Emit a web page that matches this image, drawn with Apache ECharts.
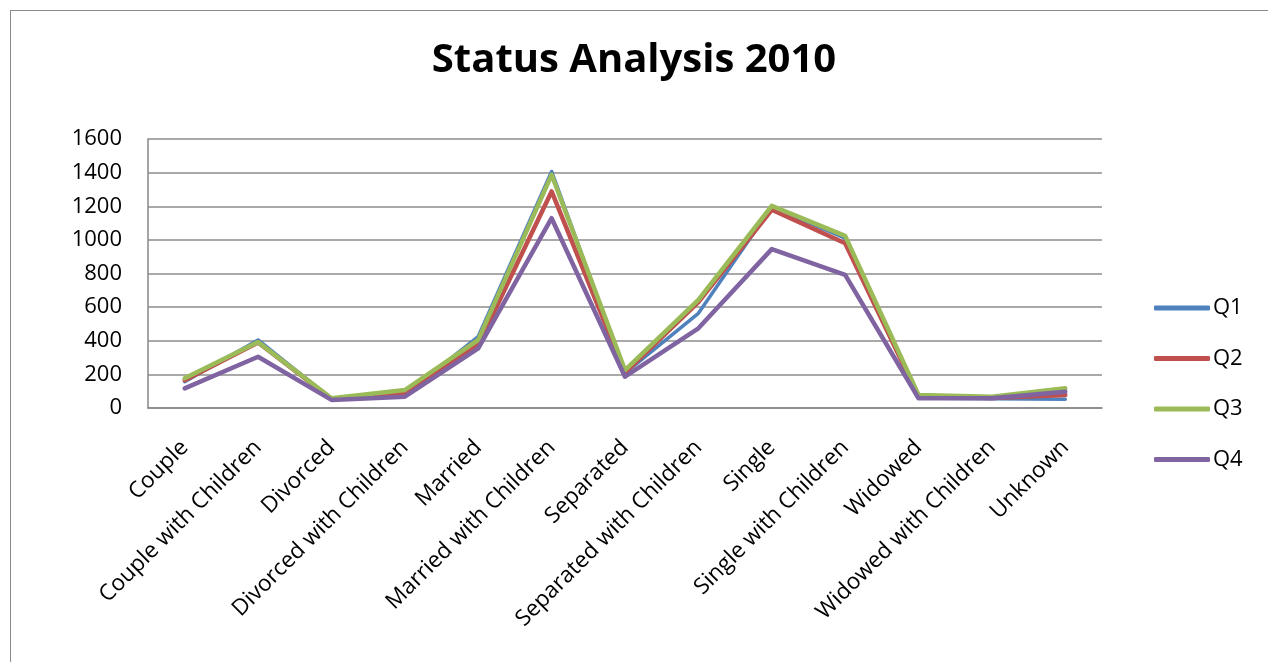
<!DOCTYPE html>
<html>
<head>
<meta charset="utf-8">
<script src="https://cdn.jsdelivr.net/npm/echarts@6/dist/echarts.min.js"></script>
<style>
html,body{margin:0;padding:0;background:#fff;overflow:hidden;}
#frame{position:absolute;left:10px;top:10px;width:1300px;height:700px;border:1.5px solid #8a8a8a;box-sizing:border-box;}
#chart{position:absolute;left:0;top:0;width:1268px;height:662px;}
</style>
</head>
<body>
<div id="frame"></div>
<div id="chart"></div>
<script>
var categories = ["Couple","Couple with Children","Divorced","Divorced with Children","Married","Married with Children","Separated","Separated with Children","Single","Single with Children","Widowed","Widowed with Children","Unknown"];
var seriesNames = ["Q1","Q2","Q3","Q4"];
var q1 = [157, 405, 55, 80, 425, 1407, 208, 563, 1195, 1010, 60, 55, 52];
var q2 = [165, 390, 55, 89, 375, 1288, 210, 630, 1179, 980, 70, 60, 77];
var q3 = [177, 392, 58, 107, 405, 1387, 226, 643, 1202, 1024, 77, 67, 117];
var q4 = [117, 305, 48, 67, 355, 1129, 186, 474, 945, 792, 58, 58, 97];
var yTicks = [0, 200, 400, 600, 800, 1000, 1200, 1400, 1600];
var colors = ["#4F81BD","#C0504D","#9BBB59","#8064A2"];
var values = [q1, q2, q3, q4];

var font = "'Open Sans', 'Noto Sans', sans-serif";
var chart = echarts.init(document.getElementById('chart'), null, {renderer:'canvas'});
chart.setOption({
  animation: false,
  backgroundColor: 'transparent',
  title: {
    text: 'Status Analysis 2010',
    left: 'center',
    top: 36,
    textStyle: {fontFamily: font, fontWeight: 'bold', fontSize: 40, color: '#000'}
  },
  legend: {
    orient: 'vertical',
    left: 1154,
    top: 297,
    padding: 0,
    itemWidth: 56,
    itemHeight: 5,
    itemGap: 28.5,
    icon: 'roundRect',
    data: seriesNames,
    textStyle: {fontFamily: font, fontSize: 22, color: '#000', lineHeight: 20, padding: [0,0,0,-2]}
  },
  grid: {left: 148, right: 166, top: 139, bottom: 254, containLabel: false},
  xAxis: {
    type: 'category',
    data: categories,
    boundaryGap: true,
    axisLine: {show: true, lineStyle: {color: '#868686', width: 1.5}},
    axisTick: {show: false},
    axisLabel: {rotate: 45, interval: 0, fontFamily: font, fontSize: 22.5, color: '#000', margin: 36}
  },
  yAxis: {
    type: 'value',
    min: yTicks[0],
    max: yTicks[yTicks.length-1],
    interval: 200,
    axisLine: {show: true, lineStyle: {color: '#868686', width: 1.5}},
    axisTick: {show: false},
    splitLine: {show: true, lineStyle: {color: '#8c8c8c', width: 1.5}},
    axisLabel: {fontFamily: font, fontSize: 22, color: '#000', margin: 26, formatter: function(v){ return String(v); }}
  },
  series: seriesNames.map(function(n, i){
    return {
      name: n,
      type: 'line',
      data: values[i],
      symbol: 'none',
      showSymbol: false,
      color: colors[i],
      lineStyle: {width: i === 0 ? 3.5 : 4.5, color: colors[i], cap: 'round', join: 'round'},
      z: 2 + i
    };
  })
});
</script>
</body>
</html>
